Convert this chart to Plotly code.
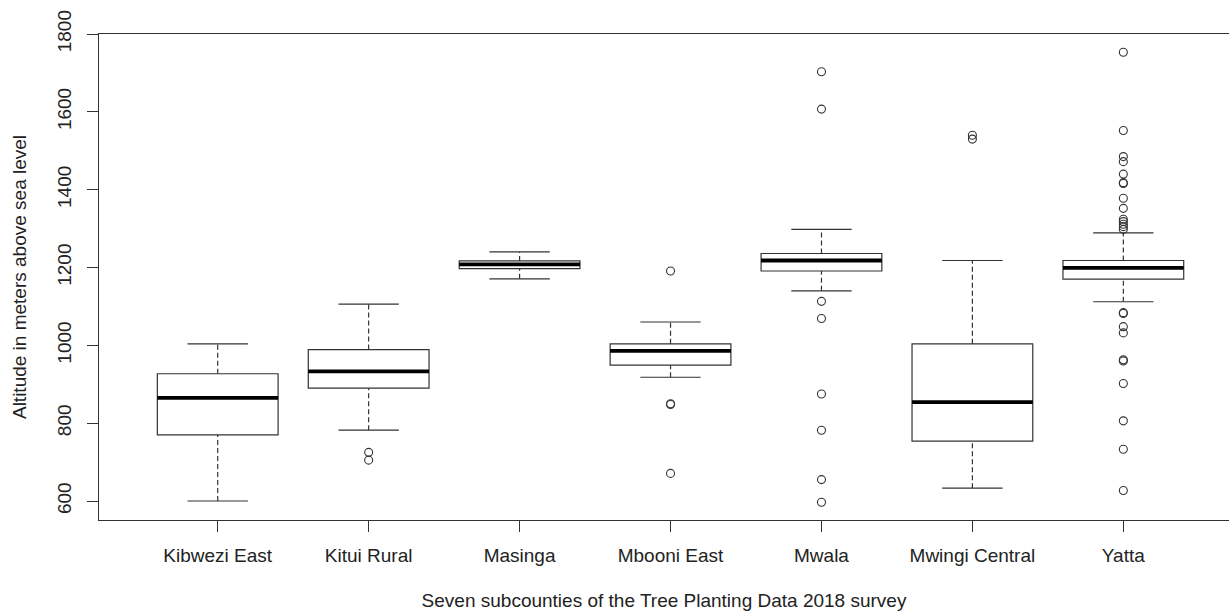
import plotly.graph_objects as go

# Altitude summary per subcounty (metres above sea level)
subcounties = ["Kibwezi East", "Kitui Rural", "Masinga", "Mbooni East",
               "Mwala", "Mwingi Central", "Yatta"]
lower_whisker = [600, 782, 1171, 918, 1140, 633, 1112]
q1 = [770, 890, 1197, 949, 1191, 754, 1170]
median = [865, 933, 1208, 986, 1218, 854, 1199]
q3 = [927, 989, 1217, 1004, 1236, 1004, 1218]
upper_whisker = [1004, 1106, 1240, 1060, 1298, 1218, 1289]

outliers = {
    "Kibwezi East": [],
    "Kitui Rural": [725, 705],
    "Masinga": [],
    "Mbooni East": [1191, 850, 848, 671],
    "Mwala": [1703, 1607, 1113, 1069, 875, 782, 655, 597],
    "Mwingi Central": [1540, 1530],
    "Yatta": [1753, 1552, 1485, 1472, 1440, 1418, 1416, 1378, 1352, 1324,
              1318, 1311, 1305, 1298, 1084, 1082, 1048, 1032, 963, 960,
              902, 806, 733, 627],
}

y_ticks = [600, 800, 1000, 1200, 1400, 1600, 1800]

FONT = "Liberation Sans, Arial, sans-serif"
INK = "#222222"
LINE = "#333333"
BOX_W = 0.8
CAP_W = 0.4

pos = list(range(1, len(subcounties) + 1))

fig = go.Figure()

# Boxes (interquartile range)
fig.add_trace(go.Box(
    x=pos, q1=q1, median=median, q3=q3,
    lowerfence=q1, upperfence=q3,
    width=BOX_W, fillcolor="white",
    line=dict(color=LINE, width=1.2),
    boxpoints=False, hoverinfo="skip", showlegend=False,
))

# Dashed whiskers
wx, wy = [], []
for p, lo, a, b, hi in zip(pos, lower_whisker, q1, q3, upper_whisker):
    wx += [p, p, None, p, p, None]
    wy += [b, hi, None, lo, a, None]
fig.add_trace(go.Scatter(x=wx, y=wy, mode="lines",
                         line=dict(color=LINE, width=1.2, dash="5px,3px"),
                         hoverinfo="skip", showlegend=False))

# Whisker caps
cx, cy = [], []
for p, lo, hi in zip(pos, lower_whisker, upper_whisker):
    cx += [p - CAP_W / 2, p + CAP_W / 2, None, p - CAP_W / 2, p + CAP_W / 2, None]
    cy += [hi, hi, None, lo, lo, None]
fig.add_trace(go.Scatter(x=cx, y=cy, mode="lines",
                         line=dict(color=LINE, width=1.2),
                         hoverinfo="skip", showlegend=False))

# Thick median bars
mx, my = [], []
for p, m in zip(pos, median):
    mx += [p - BOX_W / 2, p + BOX_W / 2, None]
    my += [m, m, None]
fig.add_trace(go.Scatter(x=mx, y=my, mode="lines",
                         line=dict(color="black", width=3.8),
                         hoverinfo="skip", showlegend=False))

# Outlying observations
ox, oy = [], []
for p, name in zip(pos, subcounties):
    for v in outliers[name]:
        ox.append(p)
        oy.append(v)
fig.add_trace(go.Scatter(x=ox, y=oy, mode="markers",
                         marker=dict(symbol="circle-open", size=8,
                                     color=LINE, line=dict(width=1.1, color=LINE)),
                         hoverinfo="y", showlegend=False))

fig.update_layout(
    width=1229, height=611,
    margin=dict(l=99, r=0, t=34, b=91),
    paper_bgcolor="white", plot_bgcolor="white",
    font=dict(family=FONT, size=19, color=INK),
    showlegend=False,
)

fig.update_xaxes(
    range=[0.2135, 7.70],
    tickmode="array", tickvals=pos, ticktext=subcounties,
    ticks="outside", ticklen=11, tickwidth=1.2, tickcolor=LINE,
    showline=True, linecolor=LINE, linewidth=1.2, mirror=True,
    showgrid=False, zeroline=False,
    tickfont=dict(family=FONT, size=19, color=INK),
    ticklabelstandoff=7,
    title=dict(text="Seven subcounties of the Tree Planting Data 2018 survey",
               font=dict(family=FONT, size=19, color=INK), standoff=30),
)

fig.update_yaxes(
    range=[551.2, 1800],
    tickmode="array", tickvals=y_ticks,
    tickangle=-90,
    ticks="outside", ticklen=11, tickwidth=1.2, tickcolor=LINE,
    showline=True, linecolor=LINE, linewidth=1.2, mirror=False,
    showgrid=False, zeroline=False,
    tickfont=dict(family=FONT, size=19, color=INK),
    ticklabelstandoff=8,
    title=dict(text="Altitude in meters above sea level",
               font=dict(family=FONT, size=19, color=INK), standoff=22),
)

fig.write_html("out.html")
